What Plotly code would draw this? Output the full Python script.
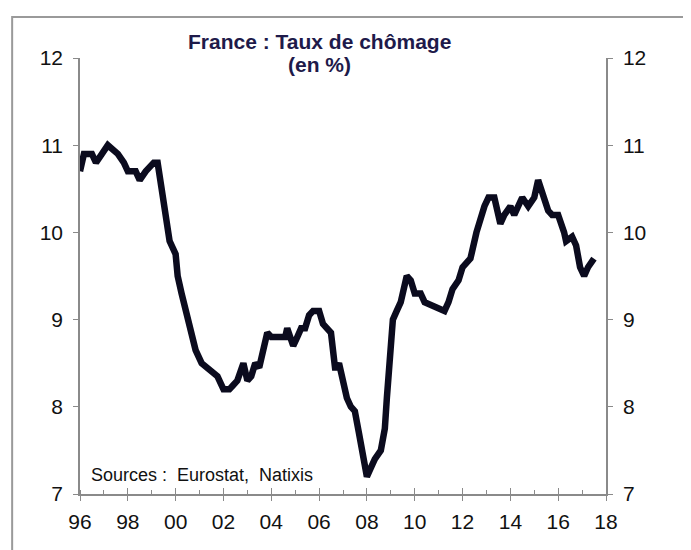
import plotly.graph_objects as go

DATES = [
    "1996-01", "1996-03", "1996-07", "1996-09", "1996-12", "1997-03", "1997-08", "1997-11",
    "1998-01", "1998-05", "1998-07", "1998-10", "1999-02", "1999-04", "1999-06", "1999-08",
    "1999-10", "2000-01", "2000-02", "2000-04", "2000-07", "2000-09", "2000-11", "2001-02",
    "2001-05", "2001-08", "2001-10", "2002-01", "2002-04", "2002-06", "2002-08", "2002-11",
    "2003-01", "2003-03", "2003-05", "2003-07", "2003-09", "2003-11", "2004-01", "2004-08",
    "2004-09", "2004-12", "2005-02", "2005-04", "2005-06", "2005-08", "2005-10", "2006-01",
    "2006-03", "2006-05", "2006-07", "2006-09", "2006-10", "2006-11", "2007-01", "2007-03",
    "2007-05", "2007-07", "2007-09", "2007-12", "2008-01", "2008-03", "2008-05", "2008-08",
    "2008-10", "2008-11", "2009-01", "2009-02", "2009-04", "2009-06", "2009-09", "2009-11",
    "2010-01", "2010-04", "2010-06", "2010-11", "2011-02", "2011-04", "2011-06", "2011-08",
    "2011-11", "2012-01", "2012-05", "2012-08", "2012-12", "2013-02", "2013-05", "2013-06",
    "2013-08", "2013-10", "2014-01", "2014-03", "2014-05", "2014-07", "2014-10", "2015-01",
    "2015-03", "2015-05", "2015-08", "2015-10", "2016-01", "2016-04", "2016-05", "2016-08",
    "2016-10", "2016-12", "2017-02", "2017-04", "2017-07",
]
TAUX = [
    10.7, 10.9, 10.9, 10.8, 10.9, 11.0, 10.9, 10.8,
    10.7, 10.7, 10.6, 10.7, 10.8, 10.8, 10.5, 10.2,
    9.9, 9.75, 9.5, 9.3, 9.0, 8.8, 8.65, 8.5,
    8.45, 8.4, 8.35, 8.2, 8.2, 8.25, 8.3, 8.5,
    8.3, 8.35, 8.5, 8.45, 8.65, 8.85, 8.8, 8.8,
    8.9, 8.7, 8.8, 8.9, 8.9, 9.05, 9.1, 9.1,
    8.95, 8.9, 8.85, 8.45, 8.45, 8.5, 8.3, 8.1,
    8.0, 7.95, 7.7, 7.3, 7.2, 7.3, 7.4, 7.5,
    7.75, 8.1, 8.6, 9.0, 9.1, 9.2, 9.5, 9.45,
    9.3, 9.3, 9.2, 9.15, 9.1, 9.1, 9.2, 9.35,
    9.45, 9.6, 9.7, 10.0, 10.3, 10.4, 10.4, 10.3,
    10.1, 10.2, 10.3, 10.2, 10.3, 10.4, 10.3, 10.4,
    10.6, 10.45, 10.25, 10.2, 10.2, 10.0, 9.9, 9.95,
    9.85, 9.6, 9.5, 9.6, 9.7,
]
Y_TICKS = [7, 8, 9, 10, 11, 12]
X_RANGE = ["1996-01-01", "2018-01-01"]

FONT = "Liberation Sans, Arial, sans-serif"
AXIS_GREY = "#8a8a8a"
TICK_FONT = dict(family=FONT, size=21, color="#111111")

fig = go.Figure()
fig.add_trace(go.Scatter(
    x=DATES, y=TAUX,
    mode="lines",
    line=dict(color="#0b0b1e", width=6.5),
    showlegend=False,
    hovertemplate="%{x|%m/%Y}<br>%{y:.1f} %<extra></extra>",
))
# invisible copy so the right axis and the inner tick axis get drawn
fig.add_trace(go.Scatter(
    x=DATES, y=TAUX, xaxis="x2", yaxis="y2",
    mode="lines", line=dict(width=0), opacity=0,
    showlegend=False, hoverinfo="skip",
))

yaxis_common = dict(
    range=[7, 12], tickvals=Y_TICKS, showgrid=False, zeroline=False,
    showline=True, linecolor=AXIS_GREY, linewidth=1.5,
    ticks="outside", ticklen=5, tickcolor=AXIS_GREY,
    tickfont=TICK_FONT, ticklabelstandoff=6,
)

fig.update_layout(
    width=683, height=542,
    margin=dict(l=72, r=85, t=50, b=56),
    paper_bgcolor="white", plot_bgcolor="white",
    xaxis=dict(
        type="date", range=X_RANGE,
        tick0="1996-01-01", dtick="M24", tickformat="%y",
        showgrid=False, zeroline=False,
        showline=True, linecolor=AXIS_GREY, linewidth=1.5,
        ticks="outside", ticklen=5, tickcolor=AXIS_GREY,
        tickfont=TICK_FONT, ticklabelstandoff=3,
        minor=dict(dtick="M12", tick0="1996-01-01", ticks="inside",
                   ticklen=4, tickcolor=AXIS_GREY, showgrid=False),
    ),
    xaxis2=dict(
        type="date", range=X_RANGE, overlaying="x", side="bottom",
        tick0="1996-01-01", dtick="M24", showticklabels=False,
        showgrid=False, zeroline=False, showline=False,
        ticks="inside", ticklen=6, tickcolor=AXIS_GREY,
    ),
    yaxis=dict(side="left", **yaxis_common),
    yaxis2=dict(side="right", overlaying="y", **yaxis_common),
    annotations=[
        dict(text="<b>France : Taux de chômage</b>",
             xref="paper", yref="paper", x=0.456, y=1.037,
             xanchor="center", yanchor="middle", showarrow=False,
             font=dict(family=FONT, size=21, color="#1e1a4a")),
        dict(text="<b>(en %)</b>",
             xref="paper", yref="paper", x=0.456, y=0.984,
             xanchor="center", yanchor="middle", showarrow=False,
             font=dict(family=FONT, size=21, color="#1e1a4a")),
        dict(text="Sources :  Eurostat,  Natixis",
             xref="paper", yref="paper", x=0.017, y=0.044,
             xanchor="left", yanchor="middle", showarrow=False,
             font=dict(family=FONT, size=18, color="#111111")),
    ],
    shapes=[
        dict(type="rect", xref="paper", yref="paper",
             x0=-0.129, x1=1.154, y0=-0.16, y1=1.094,
             line=dict(color="#9a9a9a", width=2)),
    ],
)

fig.write_html("out.html")
